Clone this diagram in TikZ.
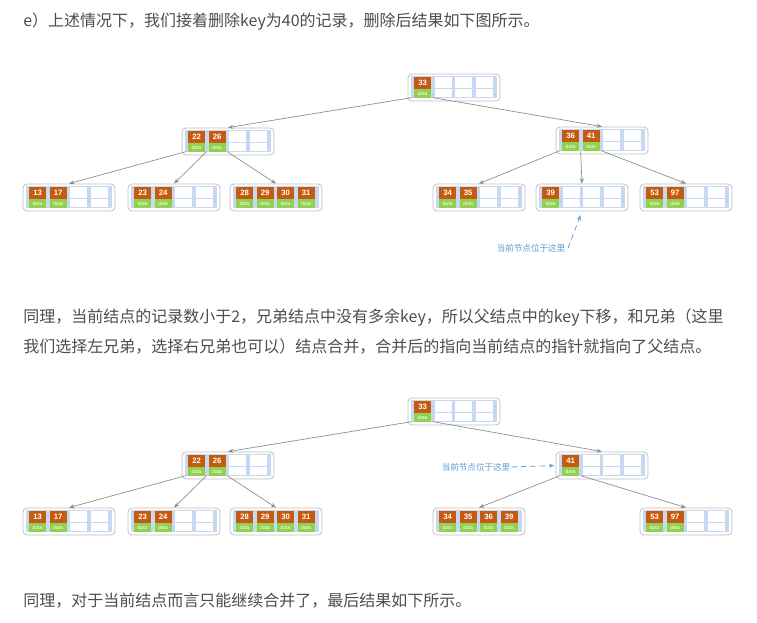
\documentclass[tikz,border=0pt]{standalone}
\usepackage{fontspec}
\setmainfont{Noto Sans CJK SC}
\newfontfamily\numfont{Liberation Sans}
\usetikzlibrary{arrows.meta,calc}
\definecolor{keyc}{HTML}{C55A11}
\definecolor{datac}{HTML}{92D050}
\definecolor{slotc}{HTML}{C6D9F1}
\definecolor{boxc}{HTML}{C0C0C0}
\definecolor{txtc}{HTML}{4D4D4D}
\definecolor{notec}{HTML}{5B9BD5}
\definecolor{linec}{HTML}{8C8C8C}

% #1 name, #2 left, #3 top, #4 keys
\newcommand{\btnode}[4]{%
  \node[btbox] (#1) at (#2+46,#3+13.5) {};
  \begin{scope}[shift={(#1.north west)}]
    \fill[slotc] (3,2.5) rectangle (89,24.5);
    \foreach \i in {0,...,3} {
      \fill[white] (6.5+20.5*\i,3.2) rectangle ++(17,11.6);
      \fill[white] (6.5+20.5*\i,15.8) rectangle ++(17,8);
    }
    \foreach \k [count=\i from 0] in {#4} {
      \fill[keyc] (6.5+20.5*\i,3) rectangle ++(17,12);
      \node[keytext] at (15+20.5*\i,9) {\k};
      \fill[datac] (6.5+20.5*\i,15.8) rectangle ++(17,8.2);
      \node[datatext] at (15+20.5*\i,20) {data};
    }
  \end{scope}
  \foreach \i in {0,...,3}
    \coordinate (#1-p\i) at ($(#1.north west)+(4.5+20.5*\i,24)$);
}

\begin{document}
\begin{tikzpicture}[x=0.75pt,y=-0.75pt,
    btbox/.style={draw=boxc,fill=white,rounded corners=3pt,line width=0.6pt,
      minimum width=69pt,minimum height=20.25pt,inner sep=0pt},
    keytext/.style={text=white,inner sep=0pt,font=\numfont\bfseries\fontsize{5.8}{6}\selectfont},
    datatext/.style={text=white,inner sep=0pt,font=\numfont\fontsize{3.8}{4}\selectfont},
    ptr/.style={draw=linec,line width=0.5pt,-{Stealth[length=4pt,width=3pt]}},
    para/.style={anchor=west,inner sep=0pt,text=txtc,font=\fontsize{12}{15}\selectfont},
    note/.style={inner sep=0pt,text=notec,font=\fontsize{6.4}{7}\selectfont},
    noteline/.style={draw=notec,line width=0.6pt,dash pattern=on 4pt off 3pt,
      -{Stealth[length=4pt,width=3pt]}}]
  \fill[white] (0,0) rectangle (757,623);
  \useasboundingbox (0,0) rectangle (757,623);

  \node[para] (line1) at (23,22) {e）上述情况下，我们接着删除key为40的记录，删除后结果如下图所示。};

  \btnode{root1}{408}{74}{33}
  \btnode{left1}{182}{128}{22,26}
  \btnode{right1}{556}{127}{36,41}
  \btnode{leafa1}{23}{184}{13,17}
  \btnode{leafa2}{128}{184}{23,24}
  \btnode{leafa3}{230}{184}{28,29,30,31}
  \btnode{leafa4}{433}{184}{34,35}
  \btnode{leafa5}{536}{184}{39}
  \btnode{leafa6}{640}{184}{53,97}

  \draw[ptr] (root1-p0) -- (left1.north);
  \draw[ptr] (root1-p1) -- (right1.north);
  \draw[ptr] (left1-p0) -- (leafa1.north);
  \draw[ptr] (left1-p1) -- (leafa2.north);
  \draw[ptr] (left1-p2) -- (leafa3.north);
  \draw[ptr] (right1-p0) -- (leafa4.north);
  \draw[ptr] (right1-p1) -- (leafa5.north);
  \draw[ptr] (right1-p2) -- (leafa6.north);

  \node[note] (note1) at (531,248) {当前节点位于这里};
  \draw[noteline,shorten >=3pt] ([xshift=2pt]note1.east) -- (leafa5.south);

  \node[para] (line2) at (23,318) {同理，当前结点的记录数小于2，兄弟结点中没有多余key，所以父结点中的key下移，和兄弟（这里};
  \node[para] (line3) at (23,347) {我们选择左兄弟，选择右兄弟也可以）结点合并，合并后的指向当前结点的指针就指向了父结点。};

  \btnode{root2}{408}{398}{33}
  \btnode{left2}{182}{452}{22,26}
  \btnode{right2}{556}{452}{41}
  \btnode{leafb1}{23}{508}{13,17}
  \btnode{leafb2}{128}{508}{23,24}
  \btnode{leafb3}{230}{508}{28,29,30,31}
  \btnode{leafb4}{433}{508}{34,35,36,39}
  \btnode{leafb5}{640}{508}{53,97}

  \draw[ptr] (root2-p0) -- (left2.north);
  \draw[ptr] (root2-p1) -- (right2.north);
  \draw[ptr] (left2-p0) -- (leafb1.north);
  \draw[ptr] (left2-p1) -- (leafb2.north);
  \draw[ptr] (left2-p2) -- (leafb3.north);
  \draw[ptr] (right2-p0) -- (leafb4.north);
  \draw[ptr] (right2-p1) -- (leafb5.north);

  \node[note] (note2) at (476,467) {当前节点位于这里};
  \draw[noteline,shorten >=1pt] ([xshift=1pt]note2.east) -- (right2.west);

  \node[para] (line4) at (23,601) {同理，对于当前结点而言只能继续合并了，最后结果如下所示。};
\end{tikzpicture}
\end{document}
